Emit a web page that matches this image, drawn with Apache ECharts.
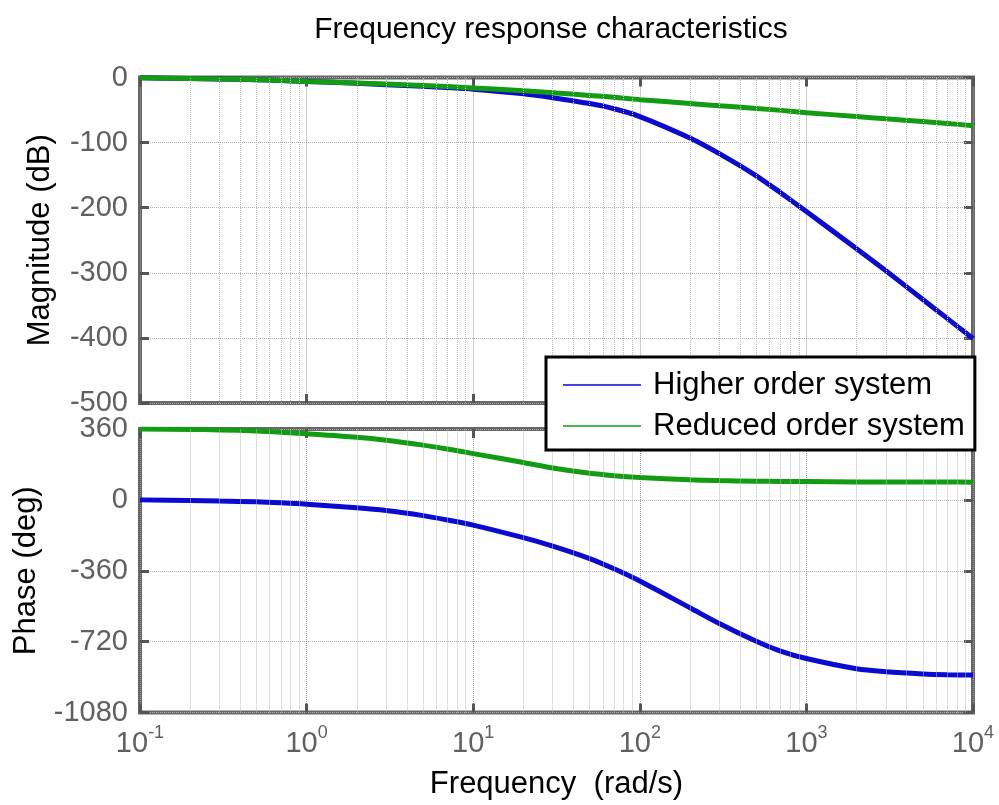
<!DOCTYPE html>
<html>
<head>
<meta charset="utf-8">
<script src="https://cdn.jsdelivr.net/npm/echarts@6/dist/echarts.min.js"></script>
<style>
html,body{margin:0;padding:0;background:#fff;}
#chart{width:999px;height:805px;}
</style>
</head>
<body>
<div id="chart"></div>
<script>
// ---- data ----
const freq = [0.1, 0.2, 0.3, 0.5, 0.7, 1, 2, 3, 5, 7, 10, 20, 30, 50, 70, 100, 200, 300, 500, 700, 1000, 2000, 3000, 5000, 7000, 10000];
const higherMag = [-0.5, -1.5, -2.3, -3.5, -4.5, -6, -9, -11, -13.5, -15.5, -18, -25, -31, -40, -48, -60, -93, -117, -151, -177, -206, -263, -297, -341, -370, -401];
const reducedMag = [-0.5, -1.5, -2.3, -3.5, -4.5, -6, -8.5, -10, -12.3, -14, -16, -20.5, -23.5, -27.5, -30.5, -34, -40, -43.5, -47.5, -50.5, -54, -60, -63.5, -67.5, -70.5, -74];
const higherPhase = [0, -3, -6, -10, -15, -22, -40, -54, -80, -102, -128, -192, -235, -298, -350, -412, -548, -628, -718, -768, -806, -858, -873, -884, -888, -890];
const reducedPhase = [360, 358, 355.5, 350, 344, 336, 318, 303, 278, 258, 235, 190, 162, 135, 123, 114, 102, 98, 95, 93.8, 92.8, 91.4, 90.9, 90.5, 90.3, 90];
const decadeExponents = [-1, 0, 1, 2, 3, 4];
const minorMultipliers = [2, 3, 4, 5, 6, 7, 8, 9];
const seriesNames = ['Higher order system', 'Reduced order system'];

const BLUE = '#0a0ad2';
const GREEN = '#129c12';
const AXIS_GRAY = '#666666';
const LABEL_GRAY = '#606060';
const FONT = '"Liberation Sans", Arial, sans-serif';

const minorFreqs = [];
decadeExponents.slice(0, -1).forEach(e => {
  minorMultipliers.forEach(m => minorFreqs.push(m * Math.pow(10, e)));
});

const pairs = arr => freq.map((f, i) => [f, arr[i]]);

const chart = echarts.init(document.getElementById('chart'), null, {renderer: 'canvas'});

function xAxisCfg(gridIndex, showLabels, position) {
  const isMain = position === 'bottom';
  return {
    gridIndex, type: 'log', logBase: 10, min: 0.1, max: 10000, splitNumber: 5,
    position,
    axisLine: {show: false, onZero: false},
    axisTick: {show: true, inside: true, length: 9, lineStyle: {color: '#555', width: 3}},
    axisLabel: {
      show: showLabels,
      margin: 12,
      formatter: v => '{a|10}{b|' + Math.round(Math.log10(v)) + '}',
      rich: {
        a: {fontSize: 29, color: LABEL_GRAY, fontFamily: FONT, verticalAlign: 'bottom'},
        b: {fontSize: 18, color: LABEL_GRAY, fontFamily: FONT, verticalAlign: 'bottom', padding: [0, 0, 16, 0]}
      }
    },
    splitLine: {show: isMain, lineStyle: {type: 'dotted', color: '#9a9a9a', width: 1}},
    name: (showLabels ? 'Frequency  (rad/s)' : ''),
    nameLocation: 'middle', nameGap: 56,
    nameTextStyle: {fontSize: 31, color: '#000', fontFamily: FONT}
  };
}

function yAxisCfg(gridIndex, min, max, interval, name, nameGap, position) {
  const isMain = position === 'left';
  return {
    gridIndex, type: 'value', min, max, interval, position,
    axisLine: {show: false, onZero: false},
    axisTick: {show: true, inside: true, length: 9, lineStyle: {color: '#555', width: 3}},
    axisLabel: {show: isMain, fontSize: 29, color: LABEL_GRAY, fontFamily: FONT, margin: 12,
      formatter: v => String(v)},
    splitLine: {show: isMain, lineStyle: {type: 'dotted', color: '#b0b0b0', width: 1}},
    name: isMain ? name : '',
    nameLocation: 'middle', nameRotate: 90, nameGap,
    nameTextStyle: {fontSize: 31, color: '#000', fontFamily: FONT}
  };
}

function minorGridSeries(xi, yi) {
  return {
    type: 'line', xAxisIndex: xi, yAxisIndex: yi, data: [], silent: true, z: 1,
    markLine: {
      silent: true, symbol: ['none', 'none'], animation: false,
      label: {show: false},
      lineStyle: {type: 'dotted', color: '#bdbdbd', width: 1},
      data: minorFreqs.map(f => ({xAxis: f}))
    }
  };
}

function curve(name, data, color, xi, yi) {
  return {
    name, type: 'line', xAxisIndex: xi, yAxisIndex: yi, data,
    smooth: 0.3, symbol: 'none', showSymbol: false,
    lineStyle: {width: 5, color}, itemStyle: {color}, z: 3
  };
}

const option = {
  animation: false,
  backgroundColor: '#ffffff',
  title: {
    text: 'Frequency response characteristics',
    left: 546, textAlign: 'center', top: 10,
    textStyle: {fontSize: 30, fontWeight: 'normal', color: '#000', fontFamily: FONT}
  },
  legend: {
    data: seriesNames,
    orient: 'vertical',
    left: 546, top: 357,
    padding: [10, 10, 6, 17],
    itemGap: 5,
    icon: 'rect',
    itemWidth: 78, itemHeight: 1.5,
    selectedMode: false,
    backgroundColor: '#ffffff',
    borderColor: '#000000', borderWidth: 3, borderRadius: 0,
    textStyle: {fontSize: 31, color: '#000', fontFamily: FONT, lineHeight: 36, padding: [0, 0, 0, 7]},
    z: 10
  },
  grid: [
    {left: 140, right: 26, top: 77.5, height: 325.5, show: true, borderColor: AXIS_GRAY, borderWidth: 4, backgroundColor: 'transparent'},
    {left: 140, right: 26, top: 429, height: 283.5, show: true, borderColor: AXIS_GRAY, borderWidth: 4, backgroundColor: 'transparent'}
  ],
  xAxis: [
    xAxisCfg(0, false, 'bottom'),
    xAxisCfg(1, true, 'bottom'),
    xAxisCfg(0, false, 'top'),
    xAxisCfg(1, false, 'top')
  ],
  yAxis: [
    yAxisCfg(0, -500, 0, 100, 'Magnitude (dB)', 84, 'left'),
    yAxisCfg(1, -1080, 360, 360, 'Phase (deg)', 98, 'left'),
    yAxisCfg(0, -500, 0, 100, '', 0, 'right'),
    yAxisCfg(1, -1080, 360, 360, '', 0, 'right')
  ],
  series: [
    minorGridSeries(0, 0),
    minorGridSeries(1, 1),
    curve(seriesNames[0], pairs(higherMag), BLUE, 0, 0),
    curve(seriesNames[1], pairs(reducedMag), GREEN, 0, 0),
    curve(seriesNames[0], pairs(higherPhase), BLUE, 1, 1),
    curve(seriesNames[1], pairs(reducedPhase), GREEN, 1, 1)
  ]
};

chart.setOption(option);
</script>
</body>
</html>
